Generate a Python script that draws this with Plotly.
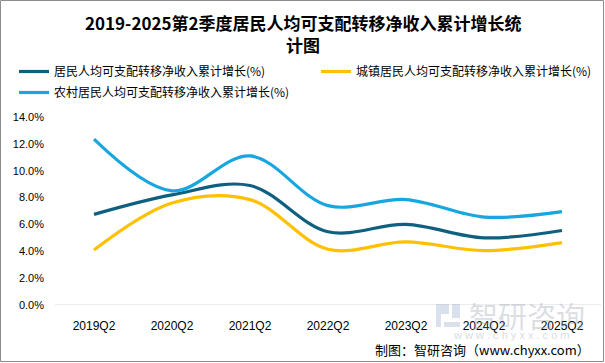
import plotly.graph_objects as go

categories = ["2019Q2", "2020Q2", "2021Q2", "2022Q2", "2023Q2", "2024Q2", "2025Q2"]
all_residents = [6.75, 8.2, 8.9, 5.45, 6.0, 5.0, 5.55]
urban = [4.1, 7.6, 7.85, 4.15, 4.7, 4.05, 4.65]
rural = [12.35, 8.5, 11.1, 7.4, 7.85, 6.55, 6.95]
y_ticks = [0, 2, 4, 6, 8, 10, 12, 14]

names = ["居民人均可支配转移净收入累计增长(%)",
         "城镇居民人均可支配转移净收入累计增长(%)",
         "农村居民人均可支配转移净收入累计增长(%)"]
colors = ["#0F5F80", "#FFC000", "#17A6DE"]
legend_ids = ["legend", "legend2", "legend"]

W, H = 605, 363
L, R, T, B = 55, 4, 117, 58
pw, ph = W - L - R, H - T - B

def px_x(p):
    return (p - L) / pw

def px_y(p):
    return (H - B - p) / ph

fig = go.Figure()
for i, (name, vals, c, lg) in enumerate(zip(names, [all_residents, urban, rural], colors, legend_ids)):
    fig.add_trace(go.Scatter(x=categories, y=vals, name=name, mode="lines", legend=lg,
                             legendgroup=f"g{i}",
                             line=dict(color=c, width=3.2, shape="spline", smoothing=1.0)))

font_cjk = "Noto Sans CJK SC"
legend_common = dict(orientation="v", xanchor="left", yanchor="top",
                     font=dict(family=font_cjk, size=12, color="#000000"),
                     bgcolor="rgba(0,0,0,0)", tracegroupgap=2, itemwidth=30)

fig.update_layout(
    width=W, height=H,
    margin=dict(l=L, r=R, t=T, b=B, autoexpand=False),
    paper_bgcolor="white", plot_bgcolor="white",
    showlegend=True,
    legend=dict(x=px_x(14), y=px_y(57), **legend_common),
    legend2=dict(x=px_x(316), y=px_y(57), **legend_common),
    xaxis=dict(type="category", range=[-0.5, 6.5], showgrid=False, zeroline=False,
               showline=False, ticks="", tickfont=dict(family="Liberation Sans", size=12, color="#000"),
               ticklabelstandoff=12, fixedrange=True),
    yaxis=dict(range=[0, 14], tickvals=y_ticks, ticktext=[f"{v:.1f}%" for v in y_ticks],
               showgrid=False, zeroline=False, showline=False, ticks="",
               tickfont=dict(family="Liberation Sans", size=11, color="#000"),
               ticklabelstandoff=10, fixedrange=True),
)

logo_col = "rgba(150,170,200,0.35)"
shapes = [
    dict(type="line", xref="paper", yref="y", x0=0, x1=1, y0=0, y1=0,
         line=dict(color="#D9D9D9", width=1), layer="below"),
    dict(type="rect", xref="paper", yref="paper",
         x0=px_x(0.5), x1=px_x(W - 1.5), y0=px_y(H - 1.5), y1=px_y(0.5),
         line=dict(color="#8C8C8C", width=1)),
    # faint watermark logo blocks
    dict(type="rect", xref="paper", yref="paper", x0=px_x(436), x1=px_x(449), y0=px_y(314), y1=px_y(304),
         line=dict(width=0), fillcolor=logo_col),
    dict(type="rect", xref="paper", yref="paper", x0=px_x(436), x1=px_x(441), y0=px_y(327), y1=px_y(314),
         line=dict(width=0), fillcolor=logo_col),
    dict(type="rect", xref="paper", yref="paper", x0=px_x(444), x1=px_x(460), y0=px_y(327), y1=px_y(322),
         line=dict(width=0), fillcolor=logo_col),
    dict(type="rect", xref="paper", yref="paper", x0=px_x(452), x1=px_x(460), y0=px_y(318), y1=px_y(304),
         line=dict(width=0), fillcolor=logo_col),
]
fig.update_layout(shapes=shapes)

annotations = [
    dict(text="<b>2019-2025第2季度居民人均可支配转移净收入累计增长统</b>", xref="paper", yref="paper",
         x=px_x(303), y=px_y(22), xanchor="center", yanchor="middle", showarrow=False,
         font=dict(family=font_cjk, size=17, color="#000")),
    dict(text="<b>计图</b>", xref="paper", yref="paper",
         x=px_x(303), y=px_y(45), xanchor="center", yanchor="middle", showarrow=False,
         font=dict(family=font_cjk, size=17, color="#000")),
    dict(text="智研咨询", xref="paper", yref="paper",
         x=px_x(527), y=px_y(315), xanchor="center", yanchor="middle", showarrow=False,
         font=dict(family=font_cjk, size=29, color="rgba(150,160,175,0.35)")),
    dict(text="w w w . c h y x x . c o m", xref="paper", yref="paper",
         x=px_x(511), y=px_y(335), xanchor="center", yanchor="middle", showarrow=False,
         font=dict(family="Liberation Sans", size=11, color="rgba(150,160,175,0.4)")),
    dict(text="制图：智研咨询（www.chyxx.com）", xref="paper", yref="paper",
         x=px_x(592), y=px_y(349), xanchor="right", yanchor="middle", showarrow=False,
         font=dict(family=font_cjk, size=13, color="#000")),
]
fig.update_layout(annotations=annotations)

fig.write_html("out.html", config={"displayModeBar": False},
               post_script="document.body.style.margin='0';document.body.style.overflow='hidden';")
